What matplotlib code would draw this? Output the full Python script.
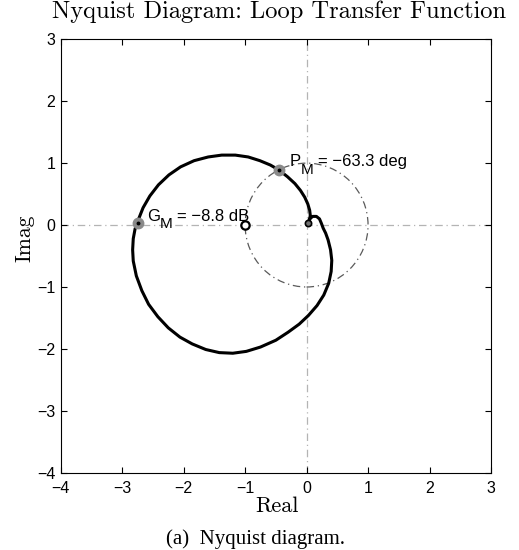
import matplotlib
matplotlib.use('Agg')
import matplotlib.pyplot as plt
from matplotlib.patches import Circle

# Nyquist curve of the loop transfer function (real, imag)
# starts at the origin, hooks right, goes round clockwise and comes back down to the origin
re_vals = [0.02, 0.05, 0.10, 0.16, 0.21, 0.24, 0.27, 0.31, 0.35, 0.39, 0.41, 0.40, 0.36,
           0.28, 0.17, 0.03, -0.12, -0.30, -0.50, -0.75, -0.98, -1.20, -1.42, -1.64,
           -1.86, -2.06, -2.25, -2.42, -2.57, -2.68, -2.77, -2.82, -2.83, -2.82, -2.79,
           -2.74, -2.66, -2.55, -2.41, -2.24, -2.05, -1.83, -1.60, -1.38, -1.16, -0.95,
           -0.76, -0.59, -0.45, -0.31, -0.19, -0.10, -0.03, 0.02, 0.05, 0.06, 0.05, 0.02]
im_vals = [0.03, 0.10, 0.14, 0.14, 0.10, 0.03, -0.05, -0.13, -0.24, -0.40, -0.57, -0.75,
           -0.94, -1.13, -1.30, -1.46, -1.60, -1.73, -1.86, -1.97, -2.04, -2.07, -2.06,
           -2.01, -1.92, -1.81, -1.66, -1.48, -1.28, -1.06, -0.82, -0.58, -0.40, -0.22,
           -0.06, 0.08, 0.28, 0.47, 0.65, 0.81, 0.94, 1.04, 1.10, 1.13, 1.13, 1.10,
           1.04, 0.97, 0.89, 0.78, 0.67, 0.56, 0.45, 0.34, 0.24, 0.16, 0.09, 0.03]

gm_point = (-2.75, 0.04)
pm_point = (-0.45, 0.89)
crit_point = (-1.0, 0.0)
origin_point = (0.02, 0.03)
gm_parts = ('G', 'M', '= −8.8 dB')
pm_parts = ('P', 'M', '= −63.3 deg')
gm_text_pos = (-2.60, 0.02)
pm_text_pos = (-0.28, 0.90)

xticks = [-4, -3, -2, -1, 0, 1, 2, 3]
yticks = [-4, -3, -2, -1, 0, 1, 2, 3]
xtick_labels = ['−4', '−3', '−2', '−1', '0', '1', '2', '3']
ytick_labels = ['−4', '−3', '−2', '−1', '0', '1', '2', '3']

fig = plt.figure(figsize=(5.19, 5.5), dpi=100)
ax = fig.add_axes([0.117, 0.1405, 0.829, 0.788])

# real / imag axes and the unit circle
ax.axhline(0, color='#b4b4b4', lw=0.9, dashes=(6, 3, 1, 3), zorder=1)
ax.axvline(0, color='#b4b4b4', lw=0.9, dashes=(6, 3, 1, 3), zorder=1)
ax.add_patch(Circle((0, 0), 1, fill=False, ec='#5a5a5a', lw=0.9, ls=(0, (6, 3, 1, 3)), zorder=1))

ax.plot(re_vals, im_vals, color='k', lw=2.2, solid_joinstyle='round', solid_capstyle='round', zorder=3)

# margin markers
for p in (gm_point, pm_point):
    ax.plot(p[0], p[1], 'o', ms=7.5, mfc='#8a8a8a', mec='#8a8a8a', zorder=4)
    ax.plot(p[0], p[1], 'o', ms=1.8, mfc='k', mec='k', zorder=5)
ax.plot(crit_point[0], crit_point[1], 'o', ms=6, mfc='white', mec='k', mew=1.6, zorder=5)
ax.plot(origin_point[0], origin_point[1], 'o', ms=4.5, mfc='#707070', mec='k', mew=1.2, zorder=5)


# matlab style label: big letter, low subscript, then the value
def margin_label(pos, parts):
    kw = dict(family='Liberation Sans', zorder=6)
    main = ax.text(pos[0], pos[1], parts[0], fontsize=12, va='bottom', **kw)
    sub = ax.annotate(parts[1], xy=(1, 0), xycoords=main, xytext=(0.2, -5.5),
                      textcoords='offset points', fontsize=11, va='bottom', **kw)
    ax.annotate(parts[2], xy=(1, 0), xycoords=(sub, main), xytext=(3, 0),
                textcoords='offset points', fontsize=12, va='bottom', **kw)


margin_label(gm_text_pos, gm_parts)
margin_label(pm_text_pos, pm_parts)

ax.set_xlim(-4, 3)
ax.set_ylim(-4, 3)
ax.set_xticks(xticks, xtick_labels)
ax.set_yticks(yticks, ytick_labels)
ax.tick_params(direction='in', length=4, width=0.8, top=True, right=True, labelsize=11.5)
ax.tick_params(axis='x', pad=6)
ax.tick_params(axis='y', pad=4)
for lab in ax.get_xticklabels() + ax.get_yticklabels():
    lab.set_family('Liberation Sans')
for s in ax.spines.values():
    s.set_linewidth(0.8)

fig.text(279.5 / 519, 1 - 18 / 550, 'Nyquist Diagram: Loop Transfer Function',
         family='cmr10', fontsize=17.6, ha='center', va='baseline')
fig.text(276.7 / 519, 1 - 512 / 550, 'Real', family='cmr10', fontsize=16, ha='center', va='baseline')
fig.text(34 / 519, 1 - 238 / 550, 'Imag', family='cmr10', fontsize=15.5, rotation=90,
         ha='right', va='center')
fig.text(256 / 519, 1 - 544 / 550, '(a)  Nyquist diagram.', family='Liberation Serif',
         fontsize=15, ha='center', va='baseline')

fig.savefig('out.png', dpi=100)
